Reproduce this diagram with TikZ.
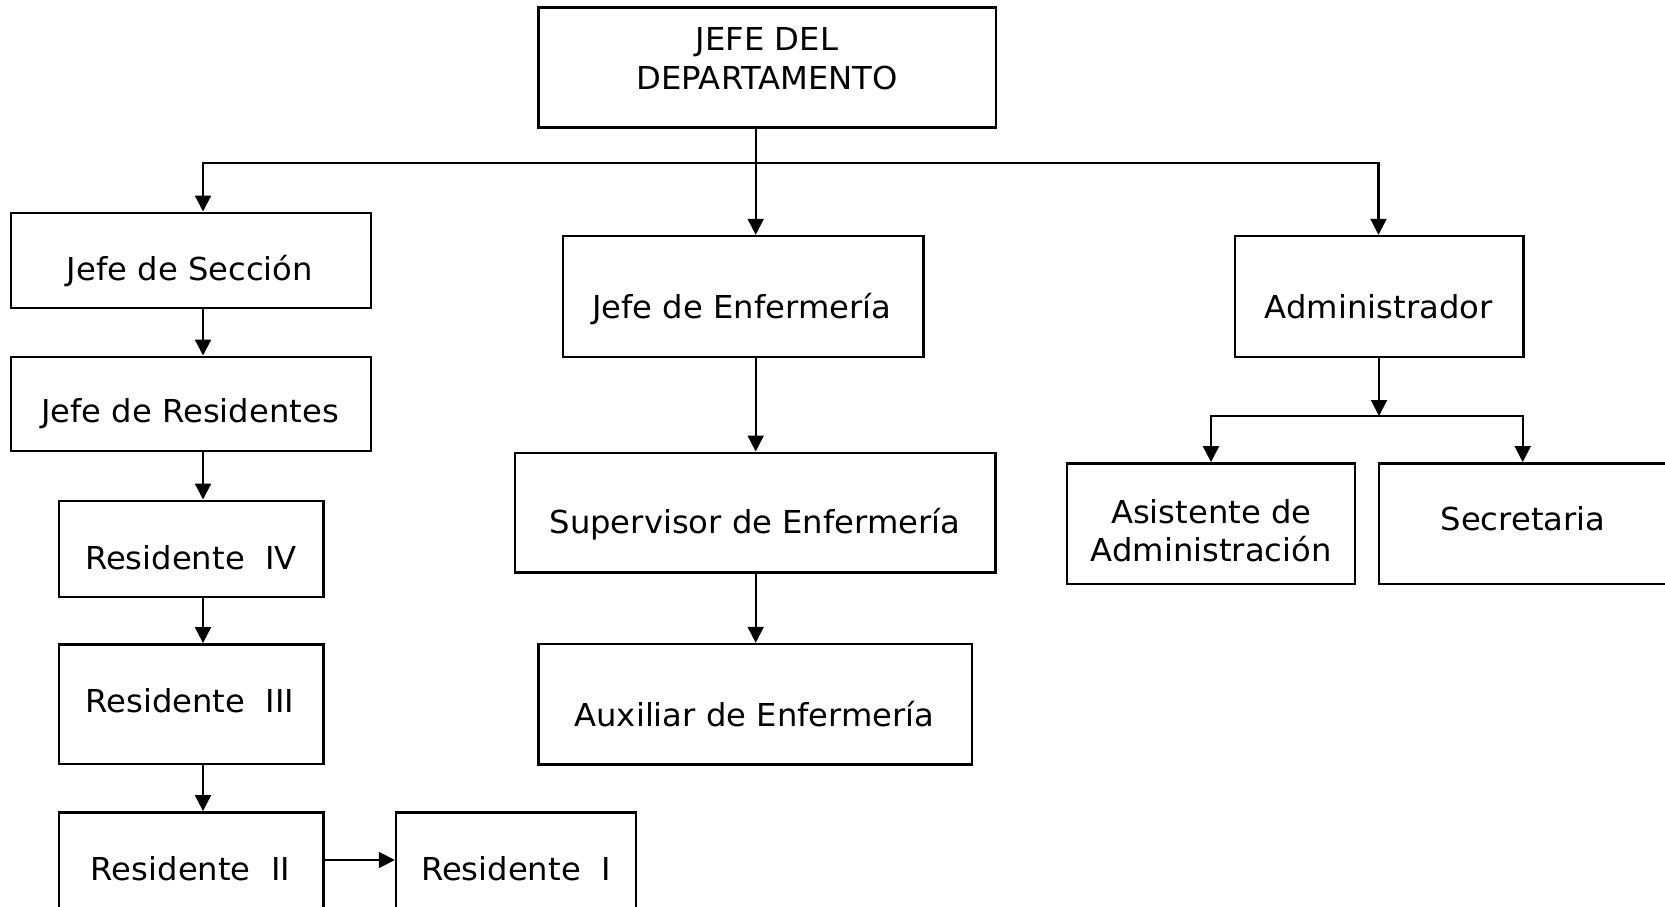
\documentclass[tikz,border=0pt]{standalone}
\usepackage{fontspec}
\setmainfont[FakeStretch=1.02]{DejaVu Sans}
\usetikzlibrary{fit,arrows.meta}
\begin{document}
\begin{tikzpicture}[x=1pt,y=-1pt,
  box/.style={draw=black, line width=2.4pt, inner sep=0pt},
  lbl/.style={anchor=base, inner sep=0pt, font=\fontsize{31.6pt}{39pt}\selectfont},
  conn/.style={line width=2.1pt, line cap=rect},
  arr/.style={conn, -{Triangle[width=16pt,length=16pt]}}]
\fill[white] (0,0) rectangle (1665,906);
\useasboundingbox (0,0) rectangle (1665,906);
\clip (0,0) rectangle (1665,906);

% boxes
\node[box, fit={(538.3,7.3) (995.7,127.3)}] (top) {};
\node[box, fit={(11,212.7) (371,308)}] (jsec) {};
\node[box, fit={(11,356.7) (371,450.7)}] (jres) {};
\node[box, fit={(59,500.7) (323.3,596.7)}] (r4) {};
\node[box, fit={(59,644.3) (323.3,764)}] (r3) {};
\node[box, fit={(59,812.3) (323.3,960)}] (r2) {};
\node[box, fit={(396,812.3) (636,960)}] (r1) {};
\node[box, fit={(562.7,236) (923.3,356.7)}] (jenf) {};
\node[box, fit={(514.7,452.7) (995.3,572.3)}] (sup) {};
\node[box, fit={(538.3,644) (971.7,764.3)}] (aux) {};
\node[box, fit={(1235,236) (1523.3,356.7)}] (adm) {};
\node[box, fit={(1066.7,463.3) (1355,584)}] (asis) {};
\node[box, fit={(1379,463.3) (1668,584)}] (sec) {};

% texts
\node[lbl] (t-top1) at (767,50) {JEFE DEL};
\node[lbl] (t-top2) at (767,89.3) {DEPARTAMENTO};
\node[lbl] (t-jsec) at (190,280.7) {Jefe de Sección};
\node[lbl] (t-jres) at (190,422.7) {Jefe de Residentes};
\node[lbl] (t-r4) at (191,569.3) {Residente\ \ IV};
\node[lbl] (t-r3) at (190,712.7) {Residente\ \ III};
\node[lbl] (t-r2) at (190.6,880) {Residente\ \ II};
\node[lbl] (t-r1) at (516,880) {Residente\ \ I};
\node[lbl] (t-jenf) at (741.7,318.3) {Jefe de Enfermería};
\node[lbl] (t-sup) at (755,533.3) {Supervisor de Enfermería};
\node[lbl] (t-aux) at (754.5,726.7) {Auxiliar de Enfermería};
\node[lbl] (t-adm) at (1378.7,318.7) {Administrador};
\node[lbl] (t-asis1) at (1211.3,523.3) {Asistente de};
\node[lbl] (t-asis2) at (1211.3,561.7) {Administración};
\node[lbl] (t-sec) at (1523,530.7) {Secretaria};

% connectors
\coordinate (hub) at (755.7,163.3);
\coordinate (hl) at (203,163.3);
\coordinate (hr) at (1378.5,163.3);
\draw[conn] (hub |- top.south) -- (hub);
\draw[conn] (hl) -- (hr);
\draw[arr] (hl) -- (hl |- jsec.north);
\draw[arr] (hub) -- (hub |- jenf.north);
\draw[arr] (hr) -- (hr |- adm.north);

\draw[arr] (hl |- jsec.south) -- (hl |- jres.north);
\draw[arr] (hl |- jres.south) -- (hl |- r4.north);
\draw[arr] (hl |- r4.south) -- (hl |- r3.north);
\draw[arr] (hl |- r3.south) -- (hl |- r2.north);
\coordinate (rr) at (0,860);
\draw[arr] (rr -| r2.east) -- (rr -| r1.west);

\draw[arr] (hub |- jenf.south) -- (hub |- sup.north);
\draw[arr] (hub |- sup.south) -- (hub |- aux.north);

\coordinate (ab) at (1379,416);
\coordinate (al) at (1211,416);
\coordinate (ar) at (1522.7,416);
\draw[arr] (ab |- adm.south) -- (ab);
\draw[conn] (al) -- (ar);
\draw[arr] (al) -- (al |- asis.north);
\draw[arr] (ar) -- (ar |- sec.north);
\end{tikzpicture}
\end{document}
